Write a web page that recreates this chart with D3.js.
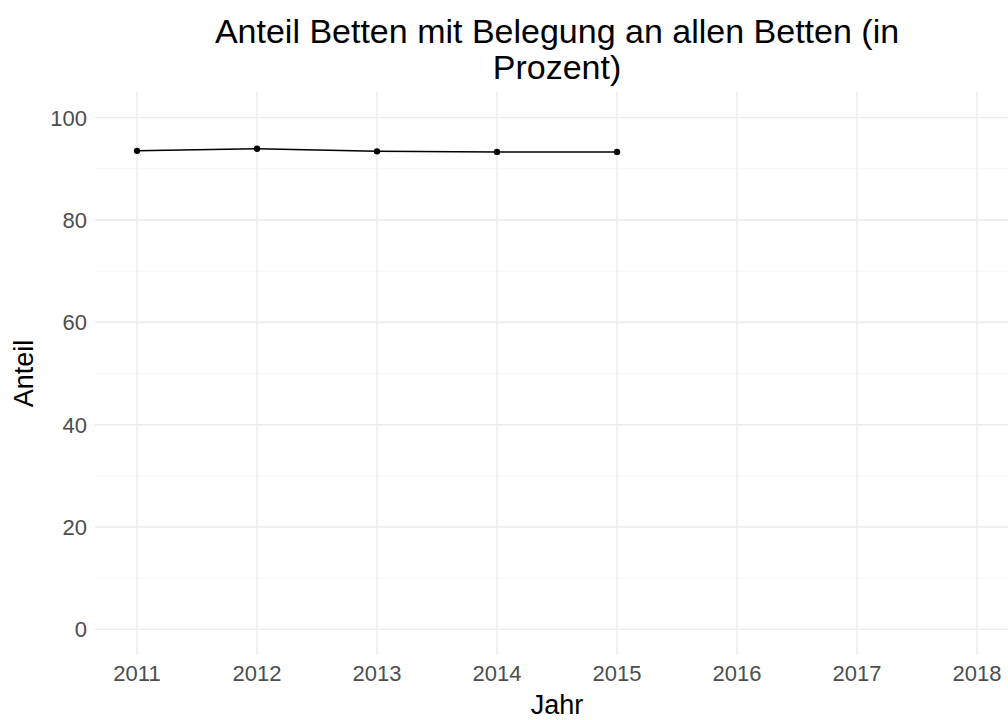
<!DOCTYPE html>
<meta charset="utf-8">
<style>
body { margin: 0; background: #fff; }
text { font-family: "Liberation Sans", Arial, sans-serif; }
.grid-major { stroke: #ebebeb; stroke-width: 1.4; }
.grid-minor { stroke: #f2f2f2; stroke-width: 0.8; }
.tick-lab { fill: #4d4d4d; font-size: 22px; }
.line { fill: none; stroke: #000; stroke-width: 1.5; }
.dot { fill: #000; }
</style>
<body>
<script src="https://d3js.org/d3.v7.min.js"></script>
<script>
// data
var years = [2011, 2012, 2013, 2014, 2015];
var anteil = [93.5, 93.9, 93.4, 93.3, 93.3];
var xTicks = [2011, 2012, 2013, 2014, 2015, 2016, 2017, 2018];
var yTicks = [0, 20, 40, 60, 80, 100];
var yMinor = [10, 30, 50, 70, 90];
var titleLines = ["Anteil Betten mit Belegung an allen Betten (in", "Prozent)"];

var W = 1008, H = 720;
var panel = {left: 95, right: 1019, top: 92, bottom: 655};

var x = d3.scaleLinear().domain([2010.65, 2018.35]).range([panel.left, panel.right]);
var y = d3.scaleLinear().domain([-5, 105]).range([panel.bottom, panel.top]);

var svg = d3.select("body").append("svg")
    .attr("width", W).attr("height", H);

// minor grid
svg.selectAll(".grid-minor")
    .data(yMinor)
  .enter().append("line")
    .attr("class", "grid-minor")
    .attr("x1", panel.left).attr("x2", panel.right)
    .attr("y1", function(d) { return y(d); })
    .attr("y2", function(d) { return y(d); });

// major grid
svg.selectAll(".gy")
    .data(yTicks)
  .enter().append("line")
    .attr("class", "grid-major gy")
    .attr("x1", panel.left).attr("x2", panel.right)
    .attr("y1", function(d) { return y(d); })
    .attr("y2", function(d) { return y(d); });

svg.selectAll(".gx")
    .data(xTicks)
  .enter().append("line")
    .attr("class", "grid-major gx")
    .attr("y1", panel.top).attr("y2", panel.bottom)
    .attr("x1", function(d) { return x(d); })
    .attr("x2", function(d) { return x(d); });

// tick labels
svg.selectAll(".ylab")
    .data(yTicks)
  .enter().append("text")
    .attr("class", "tick-lab ylab")
    .attr("x", panel.left - 8)
    .attr("y", function(d) { return y(d); })
    .attr("dy", "0.36em")
    .attr("text-anchor", "end")
    .text(function(d) { return d; });

svg.selectAll(".xlab")
    .data(xTicks)
  .enter().append("text")
    .attr("class", "tick-lab xlab")
    .attr("x", function(d) { return x(d); })
    .attr("y", 681)
    .attr("text-anchor", "middle")
    .text(function(d) { return d; });

// line + points
var line = d3.line()
    .x(function(d, i) { return x(years[i]); })
    .y(function(d) { return y(d); });

svg.append("path")
    .datum(anteil)
    .attr("class", "line")
    .attr("d", line);

svg.selectAll(".dot")
    .data(anteil)
  .enter().append("circle")
    .attr("class", "dot")
    .attr("cx", function(d, i) { return x(years[i]); })
    .attr("cy", function(d) { return y(d); })
    .attr("r", 3.2);

// axis titles
svg.append("text")
    .attr("x", (panel.left + panel.right) / 2)
    .attr("y", 714)
    .attr("text-anchor", "middle")
    .style("font-size", "27px")
    .text("Jahr");

svg.append("text")
    .attr("transform", "translate(33," + (panel.top + panel.bottom) / 2 + ") rotate(-90)")
    .attr("text-anchor", "middle")
    .style("font-size", "27px")
    .text("Anteil");

// title
svg.selectAll(".title")
    .data(titleLines)
  .enter().append("text")
    .attr("class", "title")
    .attr("x", (panel.left + panel.right) / 2)
    .attr("y", function(d, i) { return 43 + i * 36; })
    .attr("text-anchor", "middle")
    .style("font-size", "34px")
    .text(function(d) { return d; });
</script>
</body>
